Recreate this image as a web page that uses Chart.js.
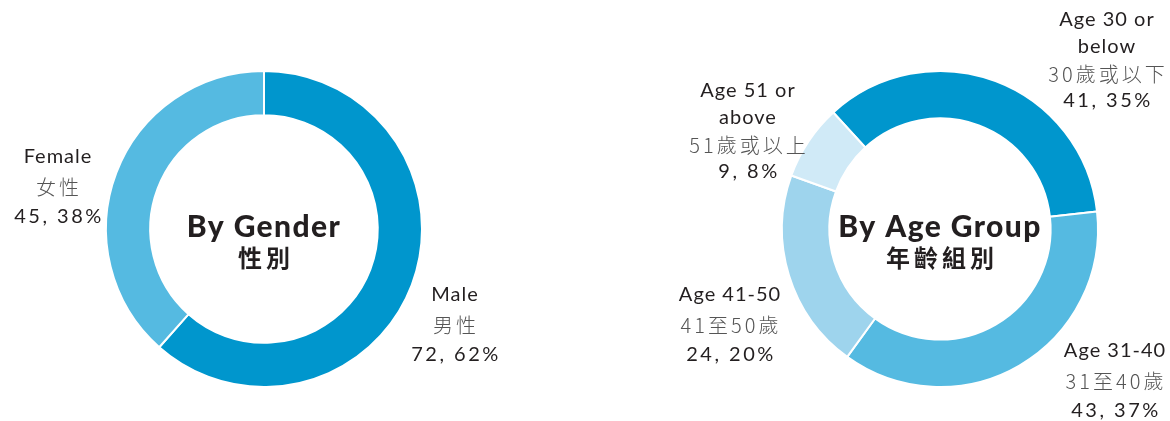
<!DOCTYPE html>
<html>
<head>
<meta charset="utf-8">
<script src="https://cdn.jsdelivr.net/npm/chart.js@4.4.1/dist/chart.umd.min.js"></script>
<style>
  html, body { margin: 0; padding: 0; background: #fff; }
  #wrap { position: relative; width: 1170px; height: 421px; overflow: hidden; }
  .box { position: absolute; top: 0; width: 585px; height: 421px; }
  #genderBox { left: 0; }
  #ageBox { left: 585px; }
</style>
</head>
<body>
<div id="wrap">
  <div class="box" id="genderBox"><canvas id="genderChart" width="585" height="421"></canvas></div>
  <div class="box" id="ageBox"><canvas id="ageChart" width="585" height="421"></canvas></div>
</div>
<script>
// Gender data
const genderEn = ['Male', 'Female'];
const genderZh = ['男性', '女性'];
const genderCounts = [72, 45];
const genderPct = [62, 38];
const genderColors = ['#0096cd', '#55bae1'];

// Age group data
const ageEn = [['Age 30 or', 'below'], ['Age 31-40'], ['Age 41-50'], ['Age 51 or', 'above']];
const ageZh = ['30歲或以下', '31至40歲', '41至50歲', '51歲或以上'];
const ageCounts = [41, 43, 24, 9];
const agePct = [35, 37, 20, 8];
const ageColors = ['#0096cd', '#55bae1', '#9ed4ed', '#d0eaf7'];

// label anchors relative to ring centre (x = centre of text block, y = first line)
const genderLabelPos = [[191, 66], [-206, -72]];
const ageLabelPos = [[167, -209], [175, 122], [-210, 66], [-192, -138]];

const LATIN = '"Lato", "Noto Sans", sans-serif';
const CJK = '"Noto Sans CJK TC", "Noto Sans CJK SC", sans-serif';
const DARK = '#231f20';

const labelPlugin = {
  id: 'ringLabels',
  afterDraw(chart, args, opts) {
    const ctx = chart.ctx;
    const arc = chart.getDatasetMeta(0).data[0];
    const cx = arc.x, cy = arc.y;
    ctx.save();
    ctx.textAlign = 'center';
    ctx.textBaseline = 'middle';

    // centre title
    ctx.fillStyle = DARK;
    ctx.font = '900 30px ' + LATIN;
    ctx.letterSpacing = '1.4px';
    ctx.fillText(opts.title, cx, cy - 2);
    ctx.font = 'bold 24px ' + CJK;
    ctx.letterSpacing = '4px';
    ctx.fillText(opts.titleZh, cx + 2, cy + 29);

    // outer labels
    opts.en.forEach((en, i) => {
      const lines = Array.isArray(en) ? en : [en];
      const gap = lines.length > 1 ? 27 : 30;
      let x = cx + opts.pos[i][0];
      let y = cy + opts.pos[i][1];
      ctx.fillStyle = DARK;
      ctx.font = '400 20px ' + LATIN;
      ctx.letterSpacing = '1px';
      lines.forEach(l => { ctx.fillText(l, x, y); y += gap; });
      ctx.fillStyle = '#555';
      ctx.font = '300 20px ' + CJK;
      ctx.letterSpacing = '3px';
      ctx.fillText(opts.zh[i], x + 1, y);
      y += gap;
      ctx.fillStyle = DARK;
      ctx.font = '400 20px ' + LATIN;
      ctx.letterSpacing = '2.5px';
      ctx.fillText(opts.counts[i] + ', ' + opts.pct[i] + '%', x + 1, y);
    });
    ctx.restore();
  }
};

function makeRing(id, counts, colors, rotation, cutout, padding, labelOpts) {
  return new Chart(document.getElementById(id), {
    type: 'doughnut',
    data: {
      labels: labelOpts.zh,
      datasets: [{
        data: counts,
        backgroundColor: colors,
        borderColor: '#ffffff',
        borderWidth: 2
      }]
    },
    options: {
      responsive: false,
      animation: false,
      rotation: rotation,
      cutout: cutout,
      layout: { padding: padding },
      plugins: {
        legend: { display: false },
        tooltip: { enabled: false },
        ringLabels: labelOpts
      }
    },
    plugins: [labelPlugin]
  });
}

makeRing('genderChart', genderCounts, genderColors, 0, '72%',
  { left: 105, top: 70, right: 162, bottom: 33 },
  { title: 'By Gender', titleZh: '性別', en: genderEn, zh: genderZh, counts: genderCounts, pct: genderPct, pos: genderLabelPos });

makeRing('ageChart', ageCounts, ageColors, -42.5, '70%',
  { left: 196, top: 70, right: 71, bottom: 33 },
  { title: 'By Age Group', titleZh: '年齡組別', en: ageEn, zh: ageZh, counts: ageCounts, pct: agePct, pos: ageLabelPos });
</script>
</body>
</html>
